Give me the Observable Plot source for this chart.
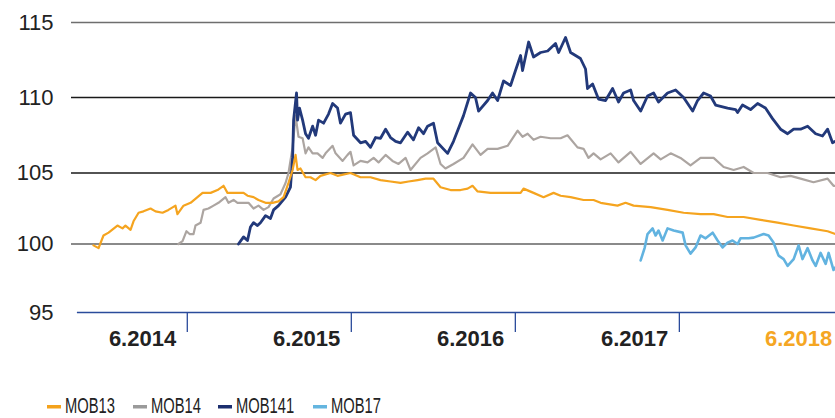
<!DOCTYPE html>
<html>
<head>
<meta charset="utf-8">
<script src="https://cdn.jsdelivr.net/npm/d3@7"></script>
<script src="https://cdn.jsdelivr.net/npm/@observablehq/plot@0.6"></script>
<style>
  html, body { margin: 0; padding: 0; background: #fff; }
  #chart { width: 835px; }
  #legend { display: block; }
</style>
</head>
<body>
<div id="chart"></div>
<script>
// ---- data (x = decimal year, y = price) ----
const seriesNames = ["MOB13", "MOB14", "MOB141", "MOB17"];
const seriesColors = ["#f5a41f", "#aca5a1", "#22397a", "#62b3e0"];
const legendColors = ["#f4a21c", "#9a9a9a", "#1c2e6e", "#64b5df"];

const mob13 = [[2014.118,99.9],[2014.149,99.7],[2014.179,100.6],[2014.210,100.8],[2014.264,101.3],[2014.295,101.1],[2014.313,101.3],[2014.344,101.0],[2014.362,101.6],[2014.393,102.2],[2014.423,102.3],[2014.466,102.5],[2014.496,102.3],[2014.539,102.2],[2014.575,102.4],[2014.618,102.7],[2014.630,102.1],[2014.667,102.7],[2014.710,102.9],[2014.752,103.3],[2014.783,103.6],[2014.832,103.6],[2014.874,103.8],[2014.911,104.1],[2014.935,103.6],[2014.972,103.6],[2015.033,103.6],[2015.057,103.4],[2015.094,103.3],[2015.124,103.1],[2015.167,102.9],[2015.210,102.9],[2015.246,103.0],[2015.277,103.3],[2015.307,104.3],[2015.332,105.2],[2015.350,106.2],[2015.362,105.2],[2015.380,105.3],[2015.411,104.7],[2015.441,104.7],[2015.472,104.5],[2015.502,104.8],[2015.563,105.0],[2015.606,104.8],[2015.685,105.0],[2015.746,104.7],[2015.807,104.7],[2015.868,104.5],[2015.929,104.4],[2015.990,104.3],[2016.039,104.4],[2016.094,104.5],[2016.143,104.6],[2016.191,104.6],[2016.234,104.0],[2016.295,103.8],[2016.356,103.8],[2016.399,103.9],[2016.429,104.1],[2016.460,103.7],[2016.539,103.6],[2016.600,103.6],[2016.679,103.6],[2016.722,103.6],[2016.740,103.9],[2016.801,103.6],[2016.862,103.3],[2016.923,103.6],[2016.966,103.4],[2017.027,103.3],[2017.106,103.1],[2017.167,103.1],[2017.210,102.9],[2017.313,102.7],[2017.362,102.9],[2017.411,102.7],[2017.515,102.6],[2017.618,102.4],[2017.716,102.2],[2017.819,102.1],[2017.899,102.1],[2017.984,101.9],[2018.082,101.9],[2018.185,101.7],[2018.289,101.5],[2018.387,101.3],[2018.490,101.1],[2018.594,100.9],[2018.642,100.7]];

const mob14 = [[2014.636,100.0],[2014.661,100.2],[2014.685,100.9],[2014.704,100.7],[2014.728,100.7],[2014.740,101.3],[2014.771,101.5],[2014.789,102.4],[2014.819,102.5],[2014.850,102.7],[2014.880,102.9],[2014.923,103.3],[2014.941,102.9],[2014.972,103.1],[2014.996,102.9],[2015.033,102.9],[2015.063,102.9],[2015.094,102.5],[2015.124,102.7],[2015.155,102.4],[2015.185,102.6],[2015.216,103.2],[2015.258,103.5],[2015.289,104.3],[2015.307,105.0],[2015.332,106.7],[2015.350,108.8],[2015.368,107.4],[2015.393,107.3],[2015.411,106.3],[2015.429,106.7],[2015.454,106.3],[2015.484,106.3],[2015.515,106.0],[2015.533,106.3],[2015.576,106.8],[2015.594,106.3],[2015.637,105.8],[2015.667,106.2],[2015.685,106.4],[2015.704,105.5],[2015.746,105.8],[2015.789,105.7],[2015.826,106.0],[2015.856,105.7],[2015.899,106.2],[2015.941,105.8],[2015.978,105.6],[2016.021,106.0],[2016.051,105.2],[2016.112,106.0],[2016.155,106.3],[2016.204,106.7],[2016.234,105.6],[2016.264,105.3],[2016.313,105.6],[2016.374,106.0],[2016.429,106.9],[2016.478,106.2],[2016.521,106.6],[2016.582,106.6],[2016.643,106.8],[2016.704,107.8],[2016.734,107.4],[2016.765,107.6],[2016.801,107.2],[2016.844,107.4],[2016.905,107.3],[2016.966,107.3],[2017.008,107.5],[2017.069,106.7],[2017.106,106.6],[2017.136,106.0],[2017.167,106.3],[2017.210,105.9],[2017.271,106.3],[2017.319,105.7],[2017.393,106.4],[2017.454,105.6],[2017.533,106.3],[2017.576,105.9],[2017.637,106.3],[2017.697,106.0],[2017.758,105.5],[2017.819,106.0],[2017.899,106.0],[2017.960,105.4],[2018.021,105.2],[2018.082,105.4],[2018.143,105.0],[2018.228,105.0],[2018.307,104.7],[2018.368,104.8],[2018.429,104.6],[2018.508,104.35],[2018.594,104.6],[2018.630,104.1],[2018.642,104.1]];

const mob141 = [[2015.002,100.0],[2015.033,100.5],[2015.057,100.25],[2015.075,101.2],[2015.094,101.5],[2015.118,101.3],[2015.136,101.5],[2015.167,102.0],[2015.197,101.8],[2015.216,102.4],[2015.246,102.7],[2015.289,103.3],[2015.319,104.0],[2015.332,106.0],[2015.338,108.5],[2015.356,110.3],[2015.362,108.5],[2015.374,109.3],[2015.393,108.5],[2015.411,107.6],[2015.429,107.3],[2015.454,108.1],[2015.472,107.5],[2015.490,108.5],[2015.521,108.3],[2015.551,108.9],[2015.576,109.6],[2015.606,109.3],[2015.624,108.3],[2015.655,108.9],[2015.685,109.0],[2015.704,107.5],[2015.746,107.0],[2015.777,107.1],[2015.807,106.7],[2015.838,107.35],[2015.868,107.3],[2015.899,107.9],[2015.929,107.35],[2015.960,107.1],[2015.990,107.0],[2016.033,107.7],[2016.069,107.2],[2016.100,108.0],[2016.130,107.6],[2016.155,108.1],[2016.191,108.3],[2016.216,107.0],[2016.277,106.3],[2016.313,107.1],[2016.374,108.8],[2016.417,110.3],[2016.447,110.0],[2016.466,109.1],[2016.521,109.8],[2016.551,110.3],[2016.582,109.8],[2016.618,111.1],[2016.661,110.8],[2016.691,111.8],[2016.722,112.8],[2016.734,111.8],[2016.771,113.7],[2016.801,112.7],[2016.844,113.0],[2016.887,113.1],[2016.935,113.6],[2016.954,113.0],[2016.996,114.0],[2017.027,113.0],[2017.087,112.6],[2017.118,111.9],[2017.130,110.6],[2017.161,110.9],[2017.197,109.9],[2017.240,109.8],[2017.283,110.6],[2017.319,109.7],[2017.350,110.3],[2017.393,110.5],[2017.411,109.8],[2017.454,109.1],[2017.496,110.1],[2017.533,110.3],[2017.563,109.7],[2017.618,110.3],[2017.667,110.5],[2017.716,110.0],[2017.771,109.1],[2017.801,109.8],[2017.838,110.3],[2017.880,110.1],[2017.911,109.5],[2017.984,109.3],[2018.033,109.2],[2018.045,109.0],[2018.075,109.5],[2018.124,109.2],[2018.167,109.6],[2018.215,109.3],[2018.258,108.6],[2018.307,107.9],[2018.350,107.6],[2018.387,107.9],[2018.429,107.9],[2018.472,108.1],[2018.521,107.6],[2018.563,107.45],[2018.594,107.9],[2018.624,107.0],[2018.642,107.1]];

const mob17 = [[2017.454,98.8],[2017.478,99.7],[2017.496,100.7],[2017.527,101.1],[2017.545,100.6],[2017.563,100.95],[2017.588,100.25],[2017.618,101.1],[2017.655,100.95],[2017.710,100.8],[2017.728,99.9],[2017.758,99.3],[2017.789,99.75],[2017.819,100.6],[2017.850,100.4],[2017.893,100.8],[2017.923,100.25],[2017.954,99.75],[2017.984,100.1],[2018.014,100.25],[2018.045,100.0],[2018.063,100.4],[2018.112,100.4],[2018.143,100.45],[2018.204,100.7],[2018.234,100.6],[2018.264,100.1],[2018.295,99.15],[2018.326,98.9],[2018.350,98.4],[2018.387,98.9],[2018.417,99.9],[2018.441,98.9],[2018.472,99.7],[2018.502,98.8],[2018.521,98.4],[2018.551,99.35],[2018.582,98.55],[2018.600,99.35],[2018.630,98.1],[2018.642,98.3]];

const yTicks = [95, 100, 105, 110, 115];
const xDomain = [2013.984, 2018.642];
const xTickYears = [2014.69, 2015.69, 2016.69, 2017.69];
const xLabels = ["6.2014", "6.2015", "6.2016", "6.2017", "6.2018"];
const xLabelYears = [2014.417, 2015.417, 2016.417, 2017.417, 2018.417];

// ---- chart ----
const toRows = (arr) => arr.map(([x, y]) => ({x, y}));
const font = "'Liberation Sans', Arial, sans-serif";
const lineFor = (arr, i, w) => Plot.line(toRows(arr), {x: "x", y: "y", stroke: seriesColors[i], strokeWidth: w, strokeLinejoin: "round", clip: true});

// the original axis spacing is slightly uneven; reproduce it with a piecewise stretch
const yStretch = d3.scaleLinear().domain(yTicks).range([0, 68.5, 139.5, 215, 290]);

const chart = Plot.plot({
  width: 835,
  height: 380,
  marginLeft: 71,
  marginRight: 0,
  marginTop: 22,
  marginBottom: 68,
  style: {fontFamily: font, color: "#222", background: "#fff", overflow: "visible"},
  x: {domain: xDomain, label: null},
  y: {transform: yStretch, domain: [0, 290], label: null},
  marks: [
    Plot.ruleY([115], {stroke: "#6e6e6e", strokeWidth: 1.5}),
    Plot.ruleY([110, 105], {stroke: "#1a1a1a", strokeWidth: 1.3}),
    Plot.ruleY([100], {stroke: "#8a8a8a", strokeWidth: 2}),
    Plot.ruleY([95], {x1: 2014.02, x2: xDomain[1], stroke: "#2a4b9b", strokeWidth: 1.5}),
    Plot.axisX(xTickYears, {anchor: "bottom", tickSize: 20, tickFormat: () => "", stroke: "#2a4b9b", strokeWidth: 1.3, label: null}),
    Plot.axisY(yTicks, {anchor: "left", tickSize: 0, tickPadding: 18, fontSize: 22, label: null, tickFormat: d => String(d)}),
    Plot.text(xLabels.slice(0, 4), {x: (d, i) => xLabelYears[i], text: d => d, frameAnchor: "bottom", dy: 33, fontSize: 22, fontWeight: "bold", fill: "#222"}),
    Plot.text(xLabels.slice(4), {x: (d, i) => xLabelYears[4 + i], text: d => d, frameAnchor: "bottom", dy: 33, fontSize: 22, fontWeight: "bold", fill: "#f5a623"}),
    lineFor(mob14, 1, 2.2),
    lineFor(mob141, 2, 2.8),
    lineFor(mob13, 0, 2.2),
    lineFor(mob17, 3, 2.6)
  ]
});
document.getElementById("chart").appendChild(chart);

// ---- legend (condensed labels, as in the original) ----
const swLeft = [47, 133, 218, 313];
const svgNS = "http://www.w3.org/2000/svg";
const legend = document.createElementNS(svgNS, "svg");
legend.setAttribute("id", "legend");
legend.setAttribute("width", 835);
legend.setAttribute("height", 38);
legend.setAttribute("font-family", font);
seriesNames.forEach((name, i) => {
  const sw = document.createElementNS(svgNS, "rect");
  sw.setAttribute("x", swLeft[i]);
  sw.setAttribute("y", 25);
  sw.setAttribute("width", 14);
  sw.setAttribute("height", 3.5);
  sw.setAttribute("fill", legendColors[i]);
  legend.appendChild(sw);
  const t = document.createElementNS(svgNS, "text");
  t.setAttribute("transform", `translate(${swLeft[i] + 18},33) scale(0.67,1)`);
  t.setAttribute("font-size", 22);
  t.setAttribute("fill", "#222");
  t.textContent = name;
  legend.appendChild(t);
});
document.body.appendChild(legend);
</script>
</body>
</html>
